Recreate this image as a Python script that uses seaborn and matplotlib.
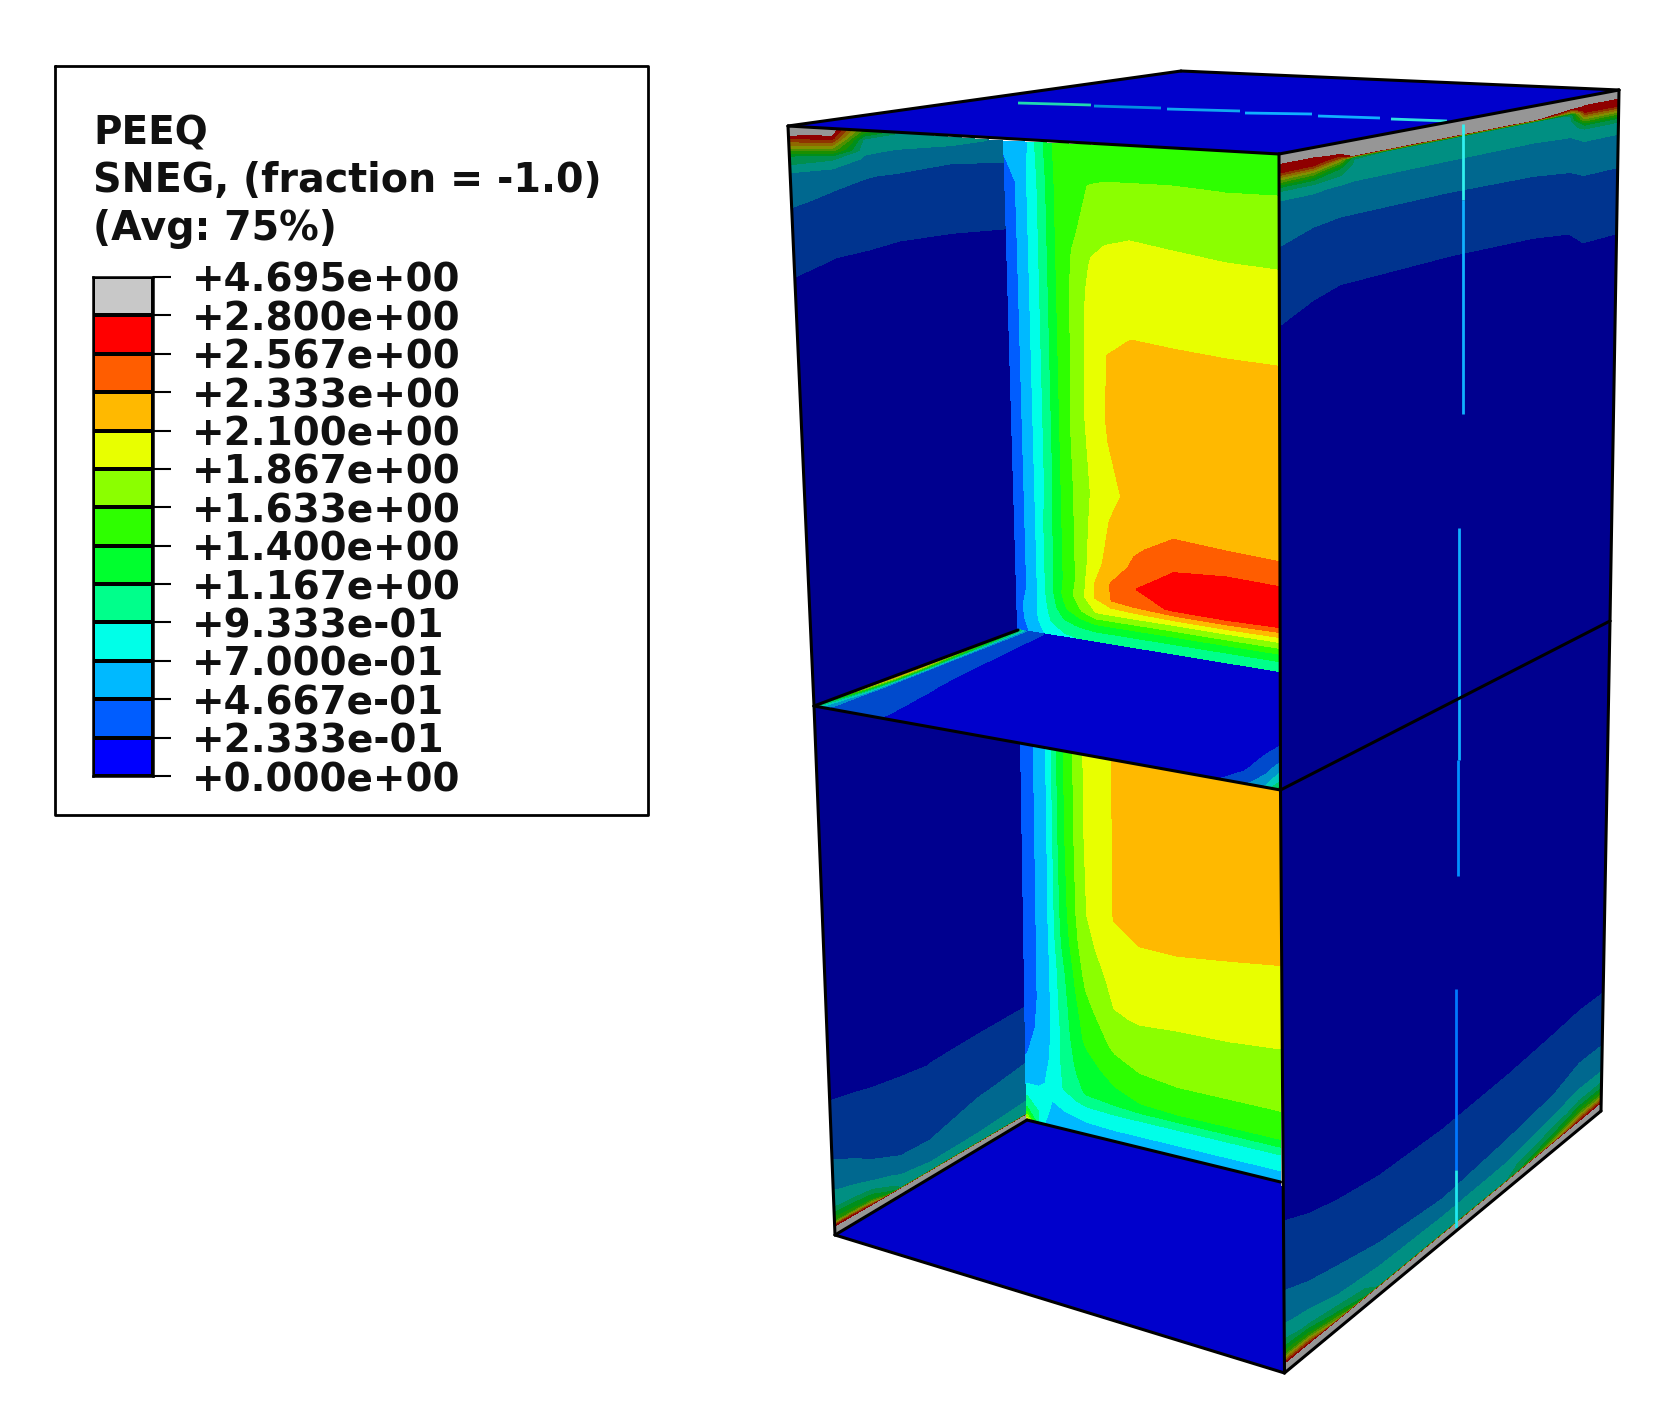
import numpy as np
import matplotlib
matplotlib.use("Agg")
import matplotlib.pyplot as plt
from matplotlib.colors import ListedColormap, BoundaryNorm
import seaborn as sns

W, H, DPI = 1659, 1408, 100

# ---------- legend data ----------
TITLE_LINES = ["PEEQ", "SNEG, (fraction = -1.0)", "(Avg: 75%)"]
LEVELS = [0.0, 0.2333, 0.4667, 0.7, 0.9333, 1.167, 1.4, 1.633, 1.867, 2.1, 2.333, 2.567, 2.8, 4.695]
LEVEL_LABELS = ["+0.000e+00", "+2.333e-01", "+4.667e-01", "+7.000e-01", "+9.333e-01", "+1.167e+00",
                "+1.400e+00", "+1.633e+00", "+1.867e+00", "+2.100e+00", "+2.333e+00", "+2.567e+00",
                "+2.800e+00", "+4.695e+00"]
BAND_COLORS = [(0, 0, 255), (0, 93, 255), (0, 185, 255), (0, 255, 232), (0, 255, 139), (0, 255, 46),
               (46, 255, 0), (139, 255, 0), (232, 255, 0), (255, 185, 0), (255, 93, 0), (255, 0, 0),
               (200, 200, 200)]

# ---------- upper back wall ----------
UB_U = [0, .04, .08, .12, .18, .24, .30, .36, .45, .60, .80, 1]
UB_V = [0, .08, .18, .225, .30, .385, .42, .55, .70, .77, .80, .84, .88, .91, .94, .97, 1]
UB_Z = [[.50, .55, .65, 1.0, 1.42, 1.45, 1.45, 1.45, 1.45, 1.45, 1.45, 1.45],
        [.40, .47, .70, .95, 1.40, 1.55, 1.63, 1.65, 1.65, 1.65, 1.63, 1.63],
        [.30, .47, .70, .95, 1.40, 1.60, 1.72, 1.80, 1.85, 1.82, 1.80, 1.78],
        [.30, .47, .70, .95, 1.40, 1.65, 1.85, 1.95, 1.95, 1.92, 1.88, 1.867],
        [.25, .47, .70, .95, 1.40, 1.70, 1.92, 1.98, 2.00, 2.00, 1.98, 1.97],
        [.25, .47, .70, .95, 1.40, 1.70, 1.95, 2.03, 2.10, 2.08, 2.06, 2.05],
        [.25, .47, .70, .95, 1.40, 1.70, 1.95, 2.10, 2.15, 2.15, 2.13, 2.12],
        [.25, .47, .70, .95, 1.40, 1.75, 1.95, 2.12, 2.20, 2.22, 2.22, 2.22],
        [.25, .47, .70, .95, 1.40, 1.70, 1.90, 2.05, 2.15, 2.20, 2.22, 2.22],
        [.25, .47, .70, 1.0, 1.40, 1.70, 1.95, 2.12, 2.28, 2.33, 2.30, 2.30],
        [.25, .47, .70, 1.0, 1.40, 1.70, 1.97, 2.15, 2.30, 2.42, 2.40, 2.36],
        [.25, .47, .70, 1.0, 1.40, 1.70, 2.00, 2.20, 2.38, 2.58, 2.62, 2.60],
        [.30, .47, .70, 1.0, 1.40, 1.70, 2.10, 2.35, 2.56, 2.70, 2.72, 2.72],
        [.30, .47, .70, 1.0, 1.45, 1.75, 2.10, 2.33, 2.45, 2.60, 2.65, 2.60],
        [.40, .50, .70, .95, 1.35, 1.60, 1.85, 1.85, 1.85, 1.85, 1.87, 1.87],
        [.40, .50, .70, .90, 1.10, 1.20, 1.25, 1.25, 1.25, 1.25, 1.25, 1.25],
        [.40, .45, .60, .75, .85, .90, .90, .90, .90, .90, .90, .90]]

# ---------- lower back wall ----------
LB_U = [0, .05, .10, .15, .20, .24, .35, .45, .60, .80, 1]
LB_V = [0, .20, .42, .50, .58, .67, .75, .82, .89, .93, .97, 1]
LB_Z = [[.30, .47, .72, 1.30, 1.63, 1.867, 2.10, 2.20, 2.25, 2.30, 2.30],
        [.30, .47, .72, 1.30, 1.63, 1.867, 2.10, 2.20, 2.25, 2.30, 2.30],
        [.30, .47, .72, 1.25, 1.60, 1.85, 2.10, 2.18, 2.20, 2.18, 2.15],
        [.30, .47, .72, 1.20, 1.55, 1.80, 2.00, 2.06, 2.06, 2.03, 2.00],
        [.30, .47, .70, 1.10, 1.45, 1.70, 1.93, 1.97, 1.95, 1.93, 1.92],
        [.30, .47, .70, 1.05, 1.35, 1.55, 1.85, 1.88, 1.87, 1.867, 1.86],
        [.35, .50, .70, 1.00, 1.30, 1.45, 1.68, 1.75, 1.75, 1.74, 1.74],
        [.45, .55, .72, 1.00, 1.20, 1.30, 1.50, 1.60, 1.63, 1.63, 1.63],
        [.60, .65, .75, .95, 1.10, 1.20, 1.30, 1.38, 1.40, 1.40, 1.40],
        [.90, .80, .70, .80, .85, .90, .93, .93, .93, .93, .93],
        [1.20, .90, .60, .60, .65, .68, .70, .70, .70, .70, .70],
        [2.00, .80, .50, .45, .45, .47, .47, .47, .50, .50, .50]]

# ---------- left faces ----------
LF_U = [0, .10, .20, .35, .50, .75, 1]
UL_V = [0, .015, .035, .05, .08, .14, .20, .26, .40, 1]
UL_Z = [[3.5, 3.0, 3.0, 1.5, .90, .80, .65],
        [2.8, 2.75, 2.7, .85, .80, .70, .60],
        [2.0, 1.9, 1.8, .75, .65, .55, .48],
        [1.2, 1.1, 1.0, .65, .56, .467, .45],
        [.70, .62, .55, .48, .44, .40, .38],
        [.467, .42, .38, .34, .33, .31, .29],
        [.33, .30, .28, .26, .233, .21, .20],
        [.233, .21, .18, .16, .15, .14, .13],
        [.10, .10, .10, .10, .10, .10, .10],
        [.05, .05, .05, .05, .05, .05, .05]]
LL_V = [0, .70, .75, .82, .87, .92, .95, .975, .985, .988, 1]
LL_Z = [[.05, .05, .05, .05, .05, .05, .05],
        [.10, .10, .10, .10, .12, .18, .233],
        [.24, .235, .23, .23, .23, .28, .33],
        [.35, .32, .30, .28, .29, .37, .42],
        [.50, .45, .38, .34, .35, .45, .50],
        [.72, .65, .55, .47, .47, .55, .62],
        [.95, .90, .80, .65, .60, .65, .70],
        [1.6, 1.5, 1.4, .80, .75, .75, .80],
        [2.7, 2.7, 2.4, .90, .85, .85, .85],
        [2.85, 2.85, 2.85, 2.85, 2.85, 2.85, 2.85],
        [3.2, 3.2, 3.2, 3.2, 3.2, 3.2, 3.2]]

# ---------- right faces ----------
RF_U = [0, .10, .18, .22, .50, .75, .86, .90, 1]
UR_V = [0, .016, .024, .028, .04, .055, .07, .09, .12, .145, .23, .27, .40, 1]
UR_Z = [[3.2, 3.2, 3.2, 3.2, 3.2, 3.2, 3.2, 3.2, 3.2],
        [2.75, 2.75, 2.85, 2.9, 3.1, 3.1, 2.9, 2.75, 2.75],
        [2.7, 2.7, 2.4, 2.85, 2.9, 2.9, 1.9, 2.7, 2.7],
        [2.65, 2.6, 2.0, .95, .90, .90, .95, 2.6, 2.65],
        [1.9, 1.8, 1.2, .88, .88, .88, .88, 1.9, 1.9],
        [1.0, 1.0, .90, .82, .80, .80, .85, 1.0, 1.0],
        [.72, .72, .68, .66, .66, .66, .70, .78, .78],
        [.60, .60, .55, .54, .55, .56, .58, .65, .65],
        [.52, .48, .467, .467, .467, .48, .50, .52, .52],
        [.467, .43, .40, .40, .41, .42, .44, .467, .467],
        [.28, .25, .233, .233, .233, .24, .25, .26, .26],
        [.233, .20, .19, .19, .19, .20, .21, .233, .233],
        [.10, .10, .10, .10, .10, .10, .10, .10, .10],
        [.05, .05, .05, .05, .05, .05, .05, .05, .05]]
LR_U = [0, .08, .17, .30, .50, .70, .85, .93, 1]
LR_V = [0, .60, .74, .76, .79, .86, .89, .92, .95, .97, .985, .988, 1]
LR_Z = [[.05, .05, .05, .05, .05, .05, .05, .05, .05],
        [.05, .05, .05, .05, .05, .05, .05, .05, .05],
        [.233, .19, .17, .15, .12, .15, .18, .20, .20],
        [.26, .233, .21, .18, .14, .17, .21, .233, .233],
        [.32, .29, .26, .24, .233, .26, .29, .30, .30],
        [.467, .42, .38, .36, .33, .37, .42, .45, .45],
        [.55, .50, .467, .42, .38, .43, .467, .52, .52],
        [.72, .65, .58, .50, .467, .50, .60, .70, .70],
        [1.0, .90, .75, .70, .68, .70, .85, 1.0, 1.0],
        [1.6, 1.5, 1.1, .85, .80, .85, 1.2, 1.7, 1.7],
        [2.65, 2.6, 1.9, .90, .88, .90, 2.0, 2.6, 2.65],
        [2.85, 2.85, 2.85, 2.85, 2.85, 2.85, 2.85, 2.85, 2.85],
        [3.2, 3.2, 3.2, 3.2, 3.2, 3.2, 3.2, 3.2, 3.2]]

# ---------- middle floor ----------
MF_U = [0, .015, .03, .09, .13, .16, .86, .92, .97, 1]
MF_V = [0, .50, .63, .77, .85, .95, 1]
MF_Z = [[1.2, .80, .45, .25, .15, .10, .10, .10, .10, .10],
        [2.4, 1.5, .47, .30, .20, .10, .10, .10, .10, .12],
        [2.4, 1.5, .47, .31, .22, .10, .10, .10, .15, .233],
        [2.0, 1.2, .47, .32, .25, .12, .10, .12, .30, .467],
        [1.6, .90, .45, .33, .27, .14, .10, .18, .40, .70],
        [1.2, .70, .45, .35, .28, .16, .15, .30, .60, 1.0],
        [1.0, .60, .40, .32, .26, .18, .20, .40, .75, 1.3]]
PLAIN_U = [0, 1]
PLAIN_V = [0, 1]
PLAIN_Z = [[.05, .05], [.05, .05]]

# ---------- outline of the box (image pixels) ----------
P = dict(tl=(788, 126), tb=(1181, 71), tr=(1619, 90), tf=(1279, 154),
         ml=(814, 706), mf=(1280.5, 790), mr=(1610, 621),
         bl=(835, 1235), bf=(1284.5, 1373), br=(1601, 1111),
         wt=(1004, 141.5), wm=(1018, 630), wr=(1279, 673),
         wu=(1021, 745), wb=(1027, 1120), we=(1280.5, 1182))

# thin through-thickness streaks: x, y, colour
STREAK_X = [[1463, 1463], [1463, 1463], [1459, 1459], [1458, 1458], [1456, 1456], [1456, 1456]]
STREAK_Y = [[124, 200], [200, 414], [528, 760], [760, 876], [989, 1170], [1170, 1228]]
STREAK_C = ["#30f0f0", "#10b0ff", "#10b0ff", "#0090ff", "#0078ff", "#20e8f0"]
TOPLINE_X = [[1018, 1091], [1094, 1161], [1167, 1240], [1245, 1312], [1318, 1380], [1391, 1447]]
TOPLINE_Y = [[103, 105], [106, 108], [109, 111], [113, 114], [116, 118], [119, 121]]
TOPLINE_C = ["#20d8b0", "#0090e0", "#10a8f0", "#10b0ff", "#10b0ff", "#30e0e0"]

sns.set_theme(style="white")
plt.rcParams["font.family"] = ["DejaVu Sans"]

fig = plt.figure(figsize=(W / DPI, H / DPI), dpi=DPI, facecolor="white")
ax = fig.add_axes([0, 0, 1, 1])
ax.set_xlim(0, W)
ax.set_ylim(H, 0)
ax.axis("off")


def shaded(f):
    out = []
    for i, c in enumerate(BAND_COLORS):
        if i == len(BAND_COLORS) - 1:
            out.append(tuple(min(1, x / 255 * max(f, .75)) for x in c))
        else:
            out.append(tuple(x / 255 * f for x in c))
    return out


def face(tl, tr, br, bl, u, v, z, f):
    U, V = np.meshgrid(np.array(u, float), np.array(v, float))
    tl, tr, br, bl = map(np.array, (tl, tr, br, bl))
    X = (1 - V) * ((1 - U) * tl[0] + U * tr[0]) + V * ((1 - U) * bl[0] + U * br[0])
    Y = (1 - V) * ((1 - U) * tl[1] + U * tr[1]) + V * ((1 - U) * bl[1] + U * br[1])
    cs = ax.contourf(X, Y, np.array(z), levels=LEVELS, colors=shaded(f), zorder=2)
    cs.set_edgecolor("face")
    cs.set_linewidth(0.6)


SIDE, PLATE = 0.56, 0.80
face(P["tl"], P["wt"], P["wm"], P["ml"], LF_U, UL_V, UL_Z, SIDE)
face(P["ml"], P["wu"], P["wb"], P["bl"], LF_U, LL_V, LL_Z, SIDE)
face(P["tf"], P["tr"], P["mr"], P["mf"], RF_U, UR_V, UR_Z, SIDE)
face(P["mf"], P["mr"], P["br"], P["bf"], LR_U, LR_V, LR_Z, SIDE)
face(P["wt"], P["tf"], P["wr"], P["wm"], UB_U, UB_V, UB_Z, 1.0)
face(P["wu"], P["mf"], P["we"], P["wb"], LB_U, LB_V, LB_Z, 1.0)
face(P["wm"], P["wr"], P["mf"], P["ml"], MF_U, MF_V, MF_Z, PLATE)
face(P["tl"], P["tb"], P["tr"], P["tf"], PLAIN_U, PLAIN_V, PLAIN_Z, PLATE)
face(P["wb"], P["we"], P["bf"], P["bl"], PLAIN_U, PLAIN_V, PLAIN_Z, PLATE)

for xs, ys, c in zip(STREAK_X + TOPLINE_X, STREAK_Y + TOPLINE_Y, STREAK_C + TOPLINE_C):
    ax.plot(xs, ys, color=c, lw=2.0, solid_capstyle="butt", zorder=3)

edges = [("tl", "tb"), ("tb", "tr"), ("tr", "tf"), ("tf", "tl"), ("tl", "ml"), ("ml", "bl"),
         ("tr", "mr"), ("mr", "br"), ("tf", "mf"), ("mf", "bf"), ("bl", "bf"), ("bf", "br"),
         ("ml", "mf"), ("mf", "mr"), ("ml", "wm"), ("wb", "we"), ("bl", "wb")]
for a, b in edges:
    ax.plot([P[a][0], P[b][0]], [P[a][1], P[b][1]], color="black", lw=2.2,
            solid_capstyle="round", zorder=4)

# ---------- legend frame ----------
ax.plot([55, 648, 648, 55, 55], [66, 66, 815, 815, 66], color="black", lw=2.0, zorder=5)
FS = 28
for line, base, size in zip(TITLE_LINES, [144, 192, 240], [28, 28.5, 28.5]):
    ax.text(93, base, line, fontsize=size, fontweight="bold",
            color="#101010", ha="left", va="baseline", zorder=6)

# ---------- legend colour bar, drawn with seaborn ----------
bx0, bx1, by0, by1 = 93, 152.5, 277, 776
cax = fig.add_axes([bx0 / W, 1 - by1 / H, (bx1 - bx0) / W, (by1 - by0) / H])
n = len(BAND_COLORS)
band_matrix = np.arange(n)[::-1].reshape(-1, 1)
sns.heatmap(band_matrix, ax=cax, cbar=False, xticklabels=False, yticklabels=False,
            cmap=ListedColormap([tuple(x / 255 for x in c) for c in BAND_COLORS]),
            norm=BoundaryNorm(np.arange(n + 1) - .5, n),
            linewidths=1.5, linecolor="black")
cax.yaxis.tick_right()
cax.set_yticks(np.arange(n + 1))
cax.set_yticklabels(LEVEL_LABELS[::-1], fontsize=FS, fontweight="bold", color="#101010")
cax.tick_params(axis="y", right=True, length=13, width=1.5, pad=15, color="black")
for s in cax.spines.values():
    s.set_visible(True)
    s.set_color("black")
    s.set_linewidth(1.8)

fig.savefig("out.png", dpi=DPI, facecolor="white")
